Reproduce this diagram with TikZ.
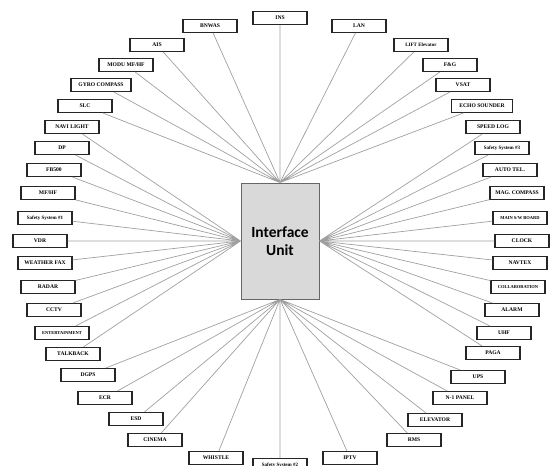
\documentclass[tikz,border=0pt]{standalone}
\usepackage{fontspec}
\setmainfont{Liberation Serif}
\newfontfamily\unitfont{Carlito}
\usepackage{tikz}
\usetikzlibrary{positioning}

\definecolor{hubgray}{HTML}{D9D9D9}
\definecolor{wiregray}{HTML}{A0A0A0}

\begin{document}
\begin{tikzpicture}[x=1pt,y=-1pt,
  unit/.style={rectangle, draw=black!60, fill=hubgray, line width=0.9pt, minimum width=78pt, minimum height=116pt, align=center, font=\unitfont\bfseries\fontsize{15.5}{18.5}\selectfont},
  tag/.style={rectangle, draw=black!85, fill=white, line width=1.1pt, inner sep=0pt, minimum width=54pt, minimum height=13pt, font=\bfseries\fontsize{5.6}{6}\selectfont},
  tagsmall/.style={tag, font=\bfseries\fontsize{4.5}{5}\selectfont},
  wire/.style={draw=wiregray, line width=0.7pt}]
\useasboundingbox (0,0) rectangle (558,466);

\node at (280,241) [unit] (IU) {Interface\\Unit};

% upper fan
\node at (210,26) [tag] (T1) {BNWAS};
\node at (157,45) [tag] (T2) {AIS};
\node at (126,65) [tag] (T3) {MODU MF/HF};
\node at (101,85) [tag, minimum width=60pt] (T4) {GYRO COMPASS};
\node at (85,106) [tag] (T5) {SLC};
\node at (280,18) [tag] (T6) {INS};
\node at (359,26) [tag] (T7) {LAN};
\node at (421,45) [tag, font=\bfseries\fontsize{5}{6}\selectfont] (T8) {LIFT Elevator};
\node at (450,65) [tag] (T9) {F\&G};
\node at (463,85) [tag] (T10) {VSAT};
\node at (482,106) [tag, minimum width=61pt] (T11) {ECHO SOUNDER};

% left fan
\node at (72,127) [tag] (L1) {NAVI LIGHT};
\node at (62,148) [tag] (L2) {DP};
\node at (54,170) [tag] (L3) {FB500};
\node at (48,193) [tag] (L4) {MF/HF};
\node at (45,218) [tag, font=\bfseries\fontsize{5}{6}\selectfont] (L5) {Safety System \#1};
\node at (40,241) [tag] (L6) {VDR};
\node at (45,263) [tag] (L7) {WEATHER FAX};
\node at (48,287) [tag] (L8) {RADAR};
\node at (54,310) [tag] (L9) {CCTV};
\node at (62,333) [tagsmall] (L10) {ENTERTAINMENT};
\node at (73,354) [tag] (L11) {TALKBACK};

% right fan
\node at (493,127) [tag] (R1) {SPEED LOG};
\node at (502,148) [tag, font=\bfseries\fontsize{5}{6}\selectfont] (R2) {Safety System \#3};
\node at (510,170) [tag] (R3) {AUTO TEL.};
\node at (517,193) [tag] (R4) {MAG. COMPASS};
\node at (520,218) [tagsmall] (R5) {MAIN S/W BOARD};
\node at (522,241) [tag] (R6) {CLOCK};
\node at (520,263) [tag] (R7) {NAVTEX};
\node at (518,287) [tagsmall] (R8) {COLLABORATION};
\node at (512,310) [tag] (R9) {ALARM};
\node at (504,333) [tag] (R10) {UHF};
\node at (493,353) [tag] (R11) {PAGA};

% lower fan
\node at (88,375) [tag] (B1) {DGPS};
\node at (105,398) [tag] (B2) {ECR};
\node at (136,419) [tag] (B3) {ESD};
\node at (155,440) [tag] (B4) {CINEMA};
\node at (216,458) [tag] (B5) {WHISTLE};
\node at (280,465) [tag, font=\bfseries\fontsize{5}{6}\selectfont] (B6) {Safety System \#2};
\node at (350,458) [tag] (B7) {IPTV};
\node at (414,440) [tag] (B8) {RMS};
\node at (435,420) [tag] (B9) {ELEVATOR};
\node at (460,398) [tag] (B10) {N-1 PANEL};
\node at (478,377) [tag] (B11) {UPS};

% connectors
\draw[wire] (IU.north) -- (T1) (IU.north) -- (T2) (IU.north) -- (T3) (IU.north) -- (T4) (IU.north) -- (T5) (IU.north) -- (T6);
\draw[wire] (IU.north) -- (T7) (IU.north) -- (T8) (IU.north) -- (T9) (IU.north) -- (T10) (IU.north) -- (T11);
\draw[wire] (IU.west) -- (L1) (IU.west) -- (L2) (IU.west) -- (L3) (IU.west) -- (L4) (IU.west) -- (L5) (IU.west) -- (L6);
\draw[wire] (IU.west) -- (L7) (IU.west) -- (L8) (IU.west) -- (L9) (IU.west) -- (L10) (IU.west) -- (L11);
\draw[wire] (IU.east) -- (R1) (IU.east) -- (R2) (IU.east) -- (R3) (IU.east) -- (R4) (IU.east) -- (R5) (IU.east) -- (R6);
\draw[wire] (IU.east) -- (R7) (IU.east) -- (R8) (IU.east) -- (R9) (IU.east) -- (R10) (IU.east) -- (R11);
\draw[wire] (IU.south) -- (B1) (IU.south) -- (B2) (IU.south) -- (B3) (IU.south) -- (B4) (IU.south) -- (B5) (IU.south) -- (B6);
\draw[wire] (IU.south) -- (B7) (IU.south) -- (B8) (IU.south) -- (B9) (IU.south) -- (B10) (IU.south) -- (B11);

\end{tikzpicture}
\end{document}
